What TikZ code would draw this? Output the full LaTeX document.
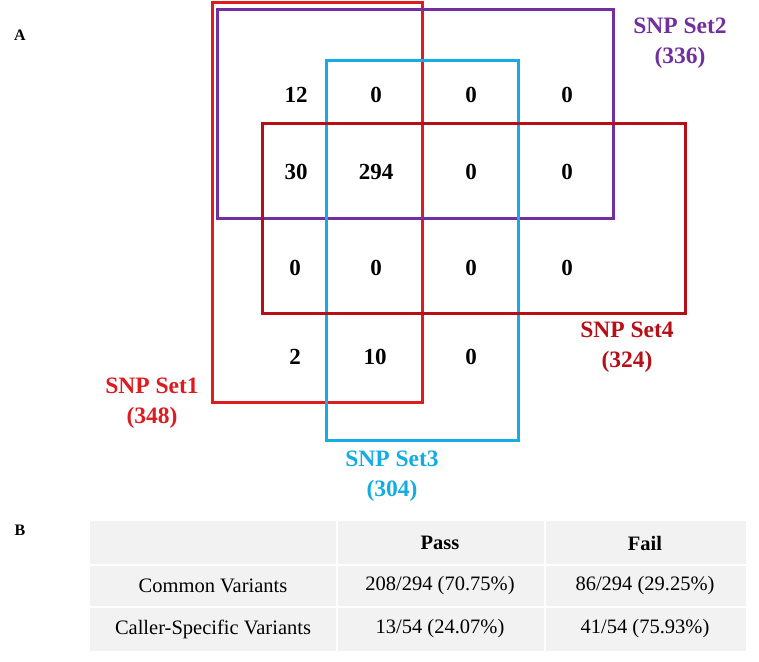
\documentclass[tikz,border=0pt]{standalone}
\usepackage{fontspec}
\setmainfont{Liberation Serif}
\definecolor{cone}{RGB}{222,28,32}
\definecolor{ctwo}{RGB}{112,48,160}
\definecolor{cthree}{RGB}{20,172,226}
\definecolor{cfour}{RGB}{184,14,22}
\definecolor{tgray}{RGB}{242,242,242}
\begin{document}
\begin{tikzpicture}[x=1pt,y=-1pt,
  setbox/.style={line width=3pt},
  num/.style={font=\fontsize{23}{23}\selectfont\bfseries, inner sep=0pt},
  lab/.style={font=\fontsize{23.5}{30}\selectfont\bfseries, align=center, inner sep=0pt},
  panel/.style={font=\fontsize{16}{16}\selectfont\bfseries, inner sep=0pt},
  cell/.style={font=\fontsize{20.5}{20.5}\selectfont, inner sep=0pt},
  head/.style={font=\fontsize{20.5}{20.5}\selectfont\bfseries, inner sep=0pt}]
\useasboundingbox[fill=white] (0,0) rectangle (759,661);
% sets
\draw[setbox, cone] (212,3) rectangle (422,402);
\draw[setbox, ctwo] (217,10) rectangle (613,218);
\draw[setbox, cthree] (326,60) rectangle (518,440);
\draw[setbox, cfour] (262,123) rectangle (685,313);
% numbers
\node[num] (n11) at (296,95) {12};
\node[num] (n12) at (376,95) {0};
\node[num] (n13) at (471,95) {0};
\node[num] (n14) at (567,95) {0};
\node[num] (n21) at (296,172) {30};
\node[num] (n22) at (376,172) {294};
\node[num] (n23) at (471,172) {0};
\node[num] (n24) at (567,172) {0};
\node[num] (n31) at (295,268) {0};
\node[num] (n32) at (376,268) {0};
\node[num] (n33) at (471,268) {0};
\node[num] (n34) at (567,268) {0};
\node[num] (n41) at (295,357) {2};
\node[num] (n42) at (375,357) {10};
\node[num] (n43) at (471,357) {0};
% labels
\node[lab, text=ctwo] (l2) at (680,43) {SNP Set2\\(336)};
\node[lab, text=cfour] (l4) at (627,347) {SNP Set4\\(324)};
\node[lab, text=cone] (l1) at (152,403) {SNP Set1\\(348)};
\node[lab, text=cthree] (l3) at (392,476) {SNP Set3\\(304)};
\node[panel] (pa) at (20,35) {A};
\node[panel] (pb) at (20,530) {B};
% table
\fill[tgray] (90,521) rectangle (746,651);
\draw[white, line width=2pt] (90,565) -- (746,565) (90,607) -- (746,607) (337,521) -- (337,651) (545,521) -- (545,651);
\node[head] (hp) at (440,543) {Pass};
\node[head] (hf) at (645,543) {Fail};
\node[cell] (r1) at (213,586) {Common Variants};
\node[cell] (r1p) at (440,586) {208/294 (70.75\%)};
\node[cell] (r1f) at (645,586) {86/294 (29.25\%)};
\node[cell] (r2) at (213,629) {Caller-Specific Variants};
\node[cell] (r2p) at (440,629) {13/54 (24.07\%)};
\node[cell] (r2f) at (645,629) {41/54 (75.93\%)};
\end{tikzpicture}
\end{document}
